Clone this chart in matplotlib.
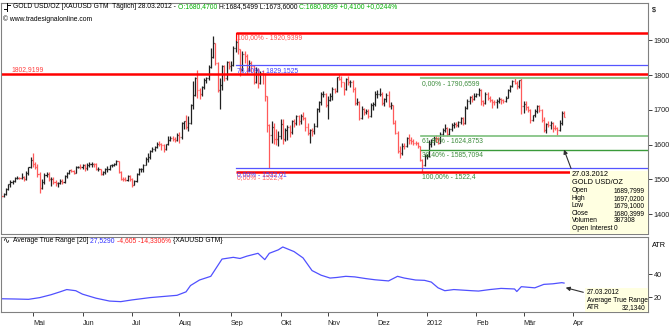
import matplotlib
matplotlib.use("Agg")
import matplotlib.pyplot as plt
import numpy as np
import pandas as pd

plt.rcParams['font.family'] = ['Liberation Sans', 'DejaVu Sans']

# ---------------- data ----------------
first_day = '2011-04-12'
last_day = '2012-03-27'

opens = [1465,1453,1458,1473,1486,1493,1495,1503,1505,1504,1507,1501,1517,1535,
 1556,1545,1536,1515,1474,1492,1514,1516,1500,1501,1492,1489,1490,1496,1492,1509,1518,1526,1525,1519,1536,1537,
 1536,1540,1532,1542,1543,1545,1543,1530,1530,1515,1520,1530,1530,1540,1542,1544,1552,1521,1502,1500,1499,1510,
 1501,1485,1496,1516,1529,1530,1542,1560,1564,1583,1588,1593,1603,1601,1599,1587,1601,1613,1620,1616,1614,
 1628,1622,1661,1667,1652,1663,1713,1743,1790,1758,1745,1767,1786,1792,1823,1852,1892,1835,1757,1772,1827,1790,1837,
 1826,1828,1879,1896,1874,1817,1860,1856,1815,1835,1825,1780,1814,1778,1806,1803,1739,1656,1628,1652,1617,1616,
 1624,1659,1615,1642,1652,1636,1669,1662,1681,1668,1683,1677,1650,1632,1642,1639,1654,1702,1722,1746,1746,
 1714,1728,1740,1761,1754,1793,1789,1780,1761,1788,1780,1780,1760,1720,1723,1677,1703,1693,1696,1683,1713,1716,
 1745,1746,1746,1721,1730,1743,1712,1713,1663,1633,1583,1575,1597,1595,1618,1613,1611,1606,1604,1595,1557,1542,
 1566,1567,1603,1613,1620,1616,1606,1631,1642,1648,1631,1645,1655,1660,1655,1664,1677,1663,1706,1726,1736,1731,
 1740,1745,1757,1725,1721,1745,1734,1727,1723,1722,1725,1731,1727,1724,1735,1757,1768,1784,1778,1768,1785,
 1712,1717,1707,1700,1670,1684,1697,1712,1700,1672,1643,1658,1656,1663,1649,1648,1643,1662,1690]

highs = [1468,1462,1475,1487,1498,1498,1506,1509,1508,1518,1510,1523,1536,1565,
 1577,1549,1545,1521,1501,1518,1522,1522,1506,1508,1498,1492,1500,1500,1512,1520,1528,1530,1528,1538,1539,1545,
 1543,1545,1546,1549,1549,1548,1546,1536,1531,1525,1532,1538,1542,1545,1548,1556,1554,1525,1508,1507,1513,1512,
 1503,1498,1518,1532,1533,1545,1564,1575,1585,1594,1596,1608,1610,1605,1602,1603,1624,1624,1626,1622,1632,
 1636,1664,1669,1684,1682,1716,1782,1795,1815,1764,1769,1792,1795,1830,1877,1911,1893,1836,1792,1830,1829,1839,1839,
 1840,1884,1900,1921,1875,1868,1870,1860,1844,1840,1829,1822,1820,1811,1813,1806,1741,1660,1668,1663,1644,1640,
 1673,1674,1648,1656,1656,1672,1675,1686,1684,1689,1695,1678,1662,1645,1649,1662,1705,1725,1750,1753,1749,
 1740,1748,1765,1763,1795,1802,1796,1781,1790,1796,1786,1787,1765,1734,1726,1710,1705,1702,1702,1719,1722,1753,
 1756,1763,1750,1735,1748,1755,1722,1715,1672,1638,1595,1605,1605,1622,1630,1622,1615,1611,1607,1597,1559,1574,
 1572,1612,1617,1625,1628,1622,1635,1648,1660,1652,1648,1663,1665,1666,1669,1680,1679,1710,1730,1740,1743,1747,
 1749,1764,1761,1727,1751,1752,1741,1730,1728,1730,1738,1735,1732,1740,1760,1770,1787,1790,1782,1787,1791,
 1725,1724,1712,1703,1686,1701,1714,1714,1702,1678,1662,1667,1667,1664,1657,1650,1670,1696,1697]

lows = [1446,1450,1455,1470,1478,1487,1492,1500,1502,1500,1495,1497,1512,1532,
 1535,1529,1508,1462,1473,1486,1508,1495,1481,1488,1480,1478,1486,1486,1489,1503,1515,1520,1515,1518,1532,1530,
 1530,1525,1528,1536,1537,1536,1527,1524,1513,1512,1516,1522,1526,1535,1538,1540,1517,1498,1495,1494,1495,1496,
 1478,1483,1492,1512,1522,1522,1540,1550,1560,1578,1581,1590,1595,1585,1580,1585,1600,1610,1610,1607,1610,
 1604,1616,1645,1645,1640,1660,1703,1740,1735,1730,1739,1760,1776,1786,1820,1850,1828,1750,1702,1758,1782,1785,1818,
 1812,1825,1866,1860,1796,1812,1835,1802,1812,1808,1774,1777,1763,1774,1774,1725,1636,1532,1605,1602,1600,1595,
 1615,1601,1609,1612,1623,1630,1652,1655,1655,1658,1670,1640,1628,1604,1624,1630,1651,1695,1715,1737,1709,
 1675,1724,1728,1747,1751,1786,1765,1742,1758,1772,1765,1752,1714,1714,1670,1673,1684,1689,1676,1680,1700,1710,
 1735,1740,1713,1710,1722,1707,1702,1658,1630,1575,1562,1570,1587,1592,1603,1602,1600,1600,1590,1553,1522,1538,
 1560,1565,1594,1598,1608,1602,1604,1625,1636,1625,1628,1640,1649,1650,1651,1660,1657,1658,1702,1716,1722,1728,
 1736,1739,1715,1712,1716,1727,1722,1705,1713,1706,1720,1716,1719,1722,1733,1752,1765,1773,1760,1763,1688,
 1690,1700,1693,1663,1667,1680,1690,1694,1664,1635,1634,1650,1646,1635,1642,1627,1640,1655,1679]

closes = [1453,1458,1473,1486,1493,1495,1503,1505,1504,1507,1501,1517,1535,1556,
 1545,1536,1515,1474,1492,1514,1516,1500,1501,1492,1489,1490,1496,1492,1509,1518,1526,1525,1519,1536,1537,1536,
 1540,1532,1542,1543,1545,1543,1530,1530,1515,1520,1530,1530,1540,1542,1544,1552,1521,1502,1500,1499,1510,1501,
 1485,1496,1516,1529,1530,1542,1560,1564,1583,1588,1593,1603,1601,1599,1587,1601,1613,1620,1616,1614,1628,
 1622,1661,1667,1652,1663,1713,1743,1790,1758,1745,1767,1786,1792,1823,1852,1892,1835,1757,1772,1827,1790,1837,1826,
 1828,1879,1896,1874,1817,1860,1856,1815,1835,1825,1780,1814,1778,1806,1803,1739,1656,1628,1652,1617,1616,1624,
 1659,1615,1642,1652,1636,1669,1662,1681,1668,1683,1677,1650,1632,1642,1639,1654,1702,1722,1746,1746,1714,
 1728,1740,1761,1754,1793,1789,1780,1761,1788,1780,1780,1760,1720,1723,1677,1703,1693,1696,1683,1713,1716,1745,
 1746,1746,1721,1730,1743,1712,1713,1663,1633,1583,1575,1597,1595,1618,1613,1611,1606,1604,1595,1557,1542,1566,
 1567,1603,1613,1620,1616,1606,1631,1642,1648,1631,1645,1655,1660,1655,1664,1677,1663,1706,1726,1736,1731,1740,
 1745,1757,1725,1721,1745,1734,1727,1723,1722,1725,1731,1727,1724,1735,1757,1768,1784,1778,1768,1785,1712,
 1717,1707,1700,1670,1684,1697,1712,1700,1672,1643,1658,1656,1663,1649,1648,1643,1662,1690,1680]

atr_dates = ['2011-04-12','2011-04-20','2011-04-28','2011-05-05','2011-05-12','2011-05-18','2011-05-23',
 '2011-05-27','2011-06-01','2011-06-09','2011-06-17','2011-06-24','2011-07-01','2011-07-13','2011-07-21',
 '2011-07-29','2011-08-04','2011-08-08','2011-08-12','2011-08-19','2011-08-24','2011-08-26','2011-09-02',
 '2011-09-07','2011-09-12','2011-09-19','2011-09-22','2011-09-26','2011-09-30','2011-10-04','2011-10-11',
 '2011-10-17','2011-10-21','2011-10-27','2011-11-02','2011-11-07','2011-11-11','2011-11-17','2011-11-24',
 '2011-11-30','2011-12-08','2011-12-14','2011-12-19','2011-12-26','2011-12-30','2012-01-04','2012-01-09',
 '2012-01-12','2012-01-18','2012-01-24','2012-01-30','2012-02-02','2012-02-09','2012-02-16','2012-02-24',
 '2012-02-27','2012-02-29','2012-03-05','2012-03-08','2012-03-14','2012-03-20','2012-03-26','2012-03-27']
atr_values = [18.5,18.3,18.0,19.5,22.0,24.5,26.5,25.5,22.5,19.0,16.5,16.0,17.5,19.5,20.5,21.5,24.5,30.0,
 34.8,38.0,47.0,53.0,54.5,53.5,55.5,58.0,52.5,58.0,61.0,63.5,59.5,54.0,43.0,39.0,36.5,37.0,38.0,37.5,36.0,
 35.0,34.0,38.0,36.5,34.8,34.5,33.0,28.0,25.5,26.5,26.0,25.5,25.2,26.5,27.5,27.0,24.8,29.0,28.5,28.0,31.0,
 31.5,32.5,32.134]

month_labels = ['Mai','Jun','Jul','Aug','Sep','Okt','Nov','Dez','2012','Feb','Mär','Apr']
month_starts = ['2011-05-01','2011-06-01','2011-07-01','2011-08-01','2011-09-01','2011-10-01',
 '2011-11-01','2011-12-01','2012-01-01','2012-02-01','2012-03-01','2012-04-01']

fib_red = [(1920.9399, '100,00% - 1920,9399'), (1522.4, '0,00% - 1522,4')]
fib_blue = [(1829.1525, '76,40% - 1829,1525'), (1532.01, '0,00% - 1532,01')]
fib_green = [(1790.6599, '0,00% - 1790,6599'), (1624.8753, '61,80% - 1624,8753'),
             (1585.7094, '38,40% - 1585,7094'), (1522.4, '100,00% - 1522,4')]
fib1_start = '2011-09-06'
fib2_start = '2011-12-29'
hline_level = 1802.9199

info_rows = [('Open', '1689,7999'), ('High', '1697,0200'), ('Low', '1679,1000'),
             ('Close', '1680,3999'), ('Volumen', '387308'), ('Open Interest', '0')]

# ---------------- setup ----------------
W, H = 670, 326
fig = plt.figure(figsize=(W/100, H/100), dpi=100)
fig.patch.set_facecolor('white')

def fr(x0, y0, x1, y1):
    return [x0/W, 1-y1/H, (x1-x0)/W, (y1-y0)/H]

ax = fig.add_axes(fr(1, 3, 648, 233.5))
ax2 = fig.add_axes(fr(1, 236.5, 648, 312))

dates = pd.bdate_range(first_day, last_day)
n = len(dates)
ext = pd.bdate_range(first_day, '2012-04-30')
def pos(datestr):
    d = pd.Timestamp(datestr)
    return int(np.searchsorted(ext.values, np.datetime64(d)))

xi = np.arange(n)
o = np.array(opens, float); h = np.array(highs, float)
l = np.array(lows, float); c = np.array(closes, float)
up = c >= o
cols = np.where(up, '#202020', '#FF5a5a')

xl = (-0.22, 287.3)
ax.vlines(xi, l, h, colors=cols, lw=0.9)
ax.hlines(o, xi-0.45, xi, colors=cols, lw=0.9)
ax.hlines(c, xi, xi+0.45, colors=cols, lw=0.9)
ax.set_xlim(*xl)
ax.set_ylim(1344.5, 2007)

fs = 4.9
# horizontal red line
ax.axhline(hline_level, color='#FF0000', lw=1.8)
ax.text(4.5, hline_level + 3, '1802,9199', color='#FF4040', fontsize=fs, va='bottom', ha='left')

s1 = pos(fib1_start) - 0.8
s2 = pos(fib2_start) - 0.5
for v, t in fib_red:
    ax.plot([s1, xl[1]], [v, v], color='#FF0000', lw=1.8, solid_capstyle='butt')
ax.plot([s1, s1], [fib_red[0][0], fib_red[0][0]-20], color='#FF0000', lw=0.8)
for v, t in fib_blue:
    ax.plot([s1, xl[1]], [v, v], color='#5555FF', lw=0.9)
ax.plot([s2, xl[1]], [fib_green[0][0], fib_green[0][0]], color='#8FC88F', lw=1.5)
ax.plot([s2, xl[1]], [fib_green[1][0], fib_green[1][0]], color='#7CBF7C', lw=1.2)
ax.plot([s2, xl[1]], [fib_green[2][0], fib_green[2][0]], color='#3A9A3A', lw=1.0)

ax.text(s1+0.6, fib_red[0][0]-4, fib_red[0][1], color='#FF5050', fontsize=fs, va='top')
ax.text(s1+0.6, fib_blue[0][0]-5, fib_blue[0][1], color='#4040FF', fontsize=fs, va='top')
ax.text(s1+0.6, fib_blue[1][0]-8, fib_blue[1][1], color='#4040FF', fontsize=fs, va='top')
ax.text(s1+0.6, fib_red[1][0]-7, fib_red[1][1], color='#FF5050', fontsize=fs, va='top', alpha=0.9)
for v, t in fib_green:
    ax.text(s2+0.5, v-4, t, color='#3C8C3C', fontsize=fs, va='top')

ax.yaxis.tick_right()
ax.set_yticks([1400, 1500, 1600, 1700, 1800, 1900])
ax.set_yticklabels(['1400', '1500', '1600', '1700', '1800', '1900'])
ax.tick_params(axis='y', length=3, width=0.6, labelsize=5.2, pad=1.2, colors='#202020')
ax.set_xticks([])
for sp in ax.spines.values():
    sp.set_color('#808080'); sp.set_linewidth(0.8)
ax.text(1.006, 0.985, '$', transform=ax.transAxes, fontsize=5.2, va='top', ha='left')

# info box
bx0 = 570; by0 = 171; bx1 = 648; by1 = 233.5
fig.patches.append(plt.Rectangle((bx0/W, 1-by1/H), (bx1-bx0)/W, (by1-by0)/H,
                   transform=fig.transFigure, facecolor='#FFFFE1', edgecolor='none', zorder=3))
fig.text(572/W, 1-175/H, '27.03.2012', fontsize=5.3, va='center', zorder=4)
fig.text(572/W, 1-182.5/H, 'GOLD USD/OZ', fontsize=5.3, va='center', zorder=4)
for k, (a, b) in enumerate(info_rows):
    yy = 190.5 + k*7.6
    fig.text(572/W, 1-yy/H, a, fontsize=4.8, va='center', zorder=4)
    fig.text(614/W, 1-yy/H, b, fontsize=4.8, va='center', zorder=4)
fig.add_artist(matplotlib.patches.FancyArrowPatch((572/W, 1-171/H), (563/W, 1-147/H),
               transform=fig.transFigure, arrowstyle='-|>', mutation_scale=6, lw=0.8, color='#303030', zorder=5))

# ATR panel
ad = [pos(d) for d in atr_dates]
ax2.plot(ad, atr_values, color='#5050FF', lw=0.9)
ax2.set_xlim(*xl)
ax2.set_ylim(7, 72.6)
ax2.yaxis.tick_right()
ax2.set_yticks([20, 40])
ax2.set_yticklabels(['20', '40'])
ax2.tick_params(axis='y', length=3, width=0.6, labelsize=5.2, pad=1.2, colors='#202020')
ax2.set_xticks([pos(m) for m in month_starts])
ax2.set_xticklabels(month_labels, ha='left')
ax2.tick_params(axis='x', length=3, width=0.6, labelsize=5.2, pad=2.5, colors='#202020')
for sp in ax2.spines.values():
    sp.set_color('#808080'); sp.set_linewidth(0.8)
ax2.text(1.006, 0.93, 'ATR', transform=ax2.transAxes, fontsize=5.2, va='top', ha='left')

fig.patches.append(plt.Rectangle((585/W, 1-312/H), (648-585)/W, (312-288)/H,
                   transform=fig.transFigure, facecolor='#FFFFE1', edgecolor='none', zorder=3))
fig.text(587/W, 1-293/H, '27.03.2012', fontsize=4.8, va='center', zorder=4)
fig.text(587/W, 1-300.5/H, 'Average True Range', fontsize=4.8, va='center', zorder=4)
fig.text(587/W, 1-307.5/H, 'ATR', fontsize=4.8, va='center', zorder=4)
fig.text(646/W, 1-307.5/H, '32,1340', fontsize=4.8, va='center', ha='right', zorder=4)
fig.add_artist(matplotlib.patches.FancyArrowPatch((586/W, 1-293/H), (563/W, 1-287/H),
               transform=fig.transFigure, arrowstyle='-|>', mutation_scale=6, lw=0.8, color='#303030', zorder=5))

# headers with multiple colours
def chain(x, y, parts, size):
    fig.canvas.draw()
    r = fig.canvas.get_renderer()
    for txt, col in parts:
        t = fig.text(x/W, 1-y/H, txt, color=col, fontsize=size, va='center', ha='left', zorder=6)
        bb = t.get_window_extent(renderer=r)
        x += bb.width

chain(13, 7, [('GOLD USD/OZ [XAUUSD GTM  Täglich] 28.03.2012 - ', '#000000'),
              ('O:1680,4700 ', '#00B000'),
              ('H:1684,5499 L:1673,6000 ', '#000000'),
              ('C:1680,8099 +0,4100 +0,0244%', '#00B000')], 4.9)
fig.text(3/W, 1-19/H, '© www.tradesignalonline.com', fontsize=4.9, va='center', zorder=6)
chain(13, 241, [('Average True Range [20] ', '#000000'),
                ('27,5290 ', '#3030FF'),
                ('-4,605 -14,3306% ', '#FF2020'),
                ('{XAUUSD GTM}', '#000000')], 4.9)
# small icons
fig.add_artist(matplotlib.lines.Line2D([7/W, 7/W], [1-3/H, 1-11/H], color='k', lw=0.7))
fig.add_artist(matplotlib.lines.Line2D([4/W, 7/W], [1-9/H, 1-9/H], color='k', lw=0.7))
fig.add_artist(matplotlib.lines.Line2D([7/W, 10/W], [1-5/H, 1-5/H], color='k', lw=0.7))
fig.text(2/W, 1-241/H, '∿', fontsize=6, va='center', family='DejaVu Sans')

fig.savefig('out.png', dpi=100)
